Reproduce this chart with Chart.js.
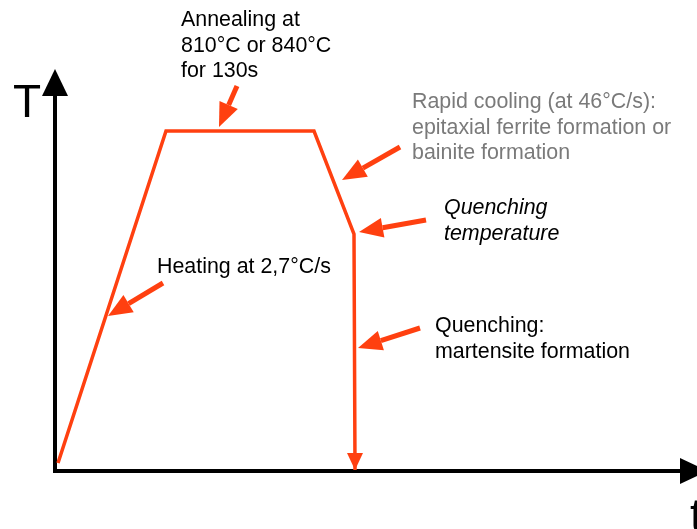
<!DOCTYPE html>
<html>
<head>
<meta charset="utf-8">
<title>Heat treatment schedule</title>
<script src="https://cdn.jsdelivr.net/npm/chart.js@4.4.0/dist/chart.umd.min.js"></script>
<style>
  html, body { margin: 0; padding: 0; background: #fff; }
  #chartCiclo { display: block; }
</style>
</head>
<body>
<canvas id="chartCiclo" width="697" height="529"></canvas>
<script>
// schematic thermal cycle, arbitrary units (t, T)
const tiempos = [3, 111, 259, 299, 300];
const temperaturas = [8, 340, 340, 237, 1];

const ROJO = 'rgb(255, 64, 16)';
const FUENTE = '"Liberation Sans", Arial, Helvetica, sans-serif';

// annotation arrows: [tail x, tail y, tip x, tip y] in data units
const flechas = [
    [182, 385, 164, 344],
    [345, 324, 287, 291],
    [371, 251, 304, 239],
    [365, 143, 303, 123],
    [108, 188, 53, 155]
];

// text blocks: lines, left x, first baseline, color, italic
const textos = [
    { lineas: ['Annealing at', '810°C or 840°C', 'for 130s'], x: 181, y: 26, color: '#000', italica: false },
    { lineas: ['Rapid cooling (at 46°C/s):', 'epitaxial ferrite formation or', 'bainite formation'], x: 412, y: 108, color: '#7a7a7a', italica: false },
    { lineas: ['Quenching', 'temperature'], x: 444, y: 214, color: '#000', italica: true },
    { lineas: ['Heating at 2,7°C/s'], x: 157, y: 273, color: '#000', italica: false },
    { lineas: ['Quenching:', 'martensite formation'], x: 435, y: 332, color: '#000', italica: false }
];

const dibujarFlecha = (ctx, x0, y0, x1, y1, largo, ancho, grosor, color) => {
    const ang = Math.atan2(y1 - y0, x1 - x0);
    const bx = x1 - largo * Math.cos(ang);
    const by = y1 - largo * Math.sin(ang);
    ctx.save();
    ctx.strokeStyle = color;
    ctx.fillStyle = color;
    ctx.lineWidth = grosor;
    ctx.beginPath();
    ctx.moveTo(x0, y0);
    ctx.lineTo(bx, by);
    ctx.stroke();
    ctx.beginPath();
    ctx.moveTo(x1, y1);
    ctx.lineTo(bx + ancho / 2 * Math.sin(ang), by - ancho / 2 * Math.cos(ang));
    ctx.lineTo(bx - ancho / 2 * Math.sin(ang), by + ancho / 2 * Math.cos(ang));
    ctx.closePath();
    ctx.fill();
    ctx.restore();
}

const pluginEsquema = {
    id: 'esquema',
    beforeDatasetsDraw(chart) {
        const ctx = chart.ctx;
        const xs = chart.scales.x;
        const ys = chart.scales.y;
        const x0 = xs.getPixelForValue(0);
        const y0 = ys.getPixelForValue(0);

        // axes with arrow heads
        ctx.save();
        ctx.strokeStyle = '#000';
        ctx.fillStyle = '#000';
        ctx.lineWidth = 4;
        ctx.beginPath();
        ctx.moveTo(x0, y0);
        ctx.lineTo(x0, 96);
        ctx.moveTo(x0 - 2, y0);
        ctx.lineTo(681, y0);
        ctx.stroke();
        ctx.beginPath();
        ctx.moveTo(x0, 69);
        ctx.lineTo(x0 - 13, 96);
        ctx.lineTo(x0 + 13, 96);
        ctx.closePath();
        ctx.fill();
        ctx.beginPath();
        ctx.moveTo(708, y0);
        ctx.lineTo(680, y0 - 13);
        ctx.lineTo(680, y0 + 13);
        ctx.closePath();
        ctx.fill();

        ctx.font = '46px ' + FUENTE;
        ctx.textBaseline = 'alphabetic';
        ctx.fillText('T', 13, 117);
        ctx.fillText('t', 690, 531);
        ctx.restore();
    },
    afterDatasetsDraw(chart) {
        const ctx = chart.ctx;
        const xs = chart.scales.x;
        const ys = chart.scales.y;

        // arrow head at the end of the quench line
        const n = tiempos.length - 1;
        const px = xs.getPixelForValue(tiempos[n]);
        const py = ys.getPixelForValue(temperaturas[n]);
        ctx.save();
        ctx.fillStyle = ROJO;
        ctx.beginPath();
        ctx.moveTo(px, py);
        ctx.lineTo(px - 8, py - 17);
        ctx.lineTo(px + 8, py - 17);
        ctx.closePath();
        ctx.fill();
        ctx.restore();

        flechas.forEach(f => {
            dibujarFlecha(ctx,
                xs.getPixelForValue(f[0]), ys.getPixelForValue(f[1]),
                xs.getPixelForValue(f[2]), ys.getPixelForValue(f[3]),
                24, 20, 5, ROJO);
        });

        ctx.save();
        ctx.textBaseline = 'alphabetic';
        ctx.textAlign = 'left';
        textos.forEach(t => {
            ctx.fillStyle = t.color;
            ctx.font = (t.italica ? 'italic ' : '') + '21.4px ' + FUENTE;
            t.lineas.forEach((l, i) => ctx.fillText(l, t.x, t.y + i * 25.5));
        });
        ctx.restore();
    }
};

const ctx = document.getElementById('chartCiclo').getContext('2d');

const chartCiclo = new Chart(ctx, {
    type: 'line',
    data: {
        datasets: [{
            label: 'T(t)',
            data: tiempos.map((t, i) => ({ x: t, y: temperaturas[i] })),
            borderColor: ROJO,
            borderWidth: 3.5,
            pointRadius: 0,
            tension: 0,
            fill: false,
            clip: false
        }]
    },
    options: {
        responsive: false,
        animation: false,
        layout: { padding: { left: 55, right: 7, top: 71, bottom: 58 } },
        plugins: {
            legend: { display: false },
            tooltip: { enabled: false }
        },
        scales: {
            x: { type: 'linear', min: 0, max: 635, display: false },
            y: { type: 'linear', min: 0, max: 400, display: false }
        }
    },
    plugins: [pluginEsquema]
});
</script>
</body>
</html>
